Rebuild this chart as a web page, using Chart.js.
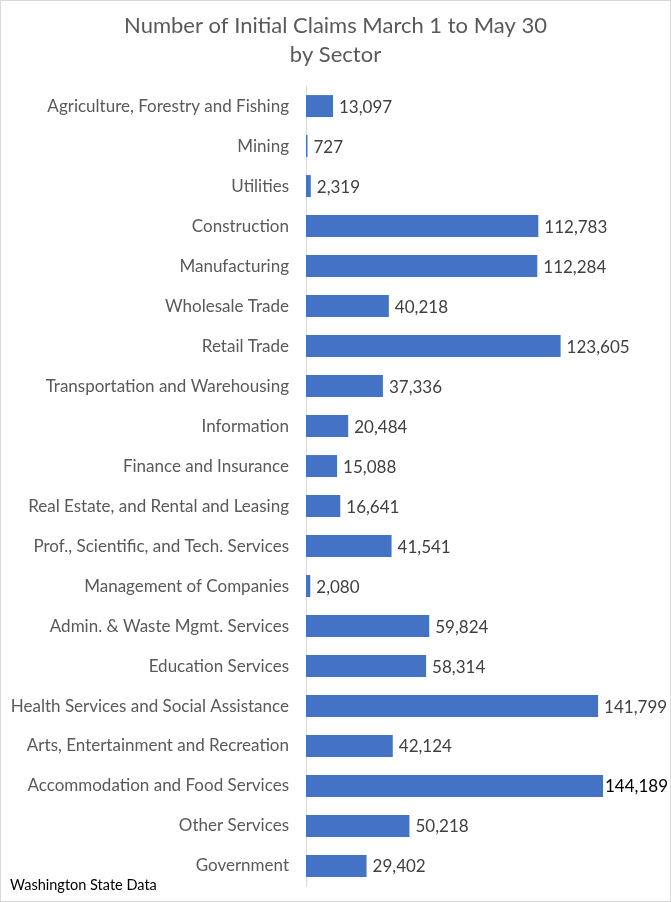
<!DOCTYPE html>
<html>
<head>
<meta charset="utf-8">
<script src="https://cdn.jsdelivr.net/npm/chart.js@4.4.0/dist/chart.umd.min.js"></script>
<style>
  html, body { margin: 0; padding: 0; background: #fff; }
  #wrap { position: relative; width: 671px; height: 902px; }
</style>
</head>
<body>
<div id="wrap"><canvas id="claimsChart"></canvas></div>
<script>
// Sectors, top to bottom
const sectors = [
  "Agriculture, Forestry and Fishing",
  "Mining",
  "Utilities",
  "Construction",
  "Manufacturing",
  "Wholesale Trade",
  "Retail Trade",
  "Transportation and Warehousing",
  "Information",
  "Finance and Insurance",
  "Real Estate, and Rental and Leasing",
  "Prof., Scientific, and Tech. Services",
  "Management of Companies",
  "Admin. & Waste Mgmt. Services",
  "Education Services",
  "Health Services and Social Assistance",
  "Arts, Entertainment and Recreation",
  "Accommodation and Food Services",
  "Other Services",
  "Government"
];

const claims = [
  13097, 727, 2319, 112783, 112284, 40218, 123605, 37336, 20484, 15088,
  16641, 41541, 2080, 59824, 58314, 141799, 42124, 144189, 50218, 29402
];

const titleLines = ["Number of Initial Claims March 1 to May 30", "by Sector"];
const sourceNote = "Washington State Data";

const FONT = "Lato, 'Open Sans', sans-serif";

// value labels at end of each bar + frame + source note
const extrasPlugin = {
  id: "extras",
  afterDatasetsDraw(chart) {
    const ctx = chart.ctx;
    const meta = chart.getDatasetMeta(0);
    const top = Math.max(...claims);
    ctx.save();
    ctx.font = "17px " + FONT;
    ctx.textBaseline = "middle";
    ctx.textAlign = "left";
    meta.data.forEach((bar, i) => {
      const isTop = claims[i] === top;
      ctx.fillStyle = isTop ? "#000000" : "#404040";
      ctx.fillText(claims[i].toLocaleString("en-US"), bar.x + (isTop ? 2 : 6), bar.y + 1);
    });
    ctx.restore();
  },
  afterDraw(chart) {
    const ctx = chart.ctx;
    ctx.save();
    ctx.font = "14.5px " + FONT;
    ctx.fillStyle = "#000000";
    ctx.textBaseline = "alphabetic";
    ctx.fillText(sourceNote, 10, 890);
    ctx.strokeStyle = "#d9d9d9";
    ctx.lineWidth = 1;
    ctx.strokeRect(0.5, 0.5, chart.width - 1, chart.height - 1);
    ctx.restore();
  }
};

new Chart(document.getElementById("claimsChart"), {
  type: "bar",
  data: {
    labels: sectors,
    datasets: [{
      data: claims,
      backgroundColor: "#4472C4",
      borderWidth: 0,
      barPercentage: 0.55,
      categoryPercentage: 1.0
    }]
  },
  options: {
    indexAxis: "y",
    responsive: true,
    maintainAspectRatio: false,
    animation: false,
    layout: { padding: { top: 0, right: 0, bottom: 16, left: 0 } },
    plugins: {
      legend: { display: false },
      tooltip: { enabled: false },
      title: {
        display: true,
        text: titleLines,
        color: "#595959",
        font: { family: FONT, size: 22, weight: "normal", lineHeight: 1.32 },
        padding: { top: 11, bottom: 17 }
      }
    },
    scales: {
      x: {
        display: false,
        min: 0,
        max: 177200
      },
      y: {
        afterFit(scale) {
          scale.width = 306;
          // labels sit inside their rows, no extra room needed top/bottom
          scale.paddingTop = 0;
          scale.paddingBottom = 0;
        },
        grid: { display: false },
        border: { display: true, color: "#d9d9d9", width: 1 },
        ticks: {
          color: "#595959",
          padding: 9,
          font: { family: FONT, size: 17 }
        }
      }
    }
  },
  plugins: [extrasPlugin]
});
</script>
</body>
</html>
